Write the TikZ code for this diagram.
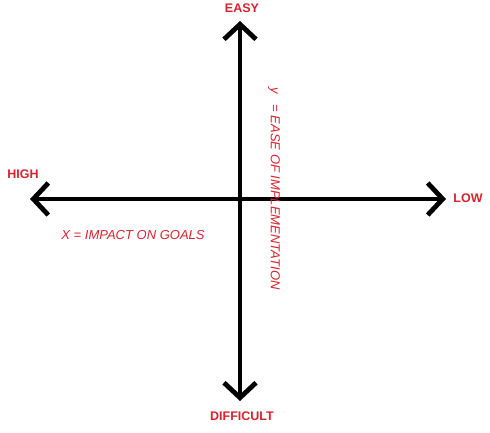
\documentclass[tikz,border=0pt]{standalone}
\usepackage{fontspec}
\setmainfont{Liberation Sans}
\usetikzlibrary{arrows.meta}
\definecolor{lblred}{RGB}{214,36,46}
\tikzset{
  axisline/.style={line width=4.8pt, line cap=round,
    {Straight Barb[length=15pt 0 0, width=32pt 0 0, line width=4.8pt]}-{Straight Barb[length=15pt 0 0, width=32pt 0 0, line width=4.8pt]}},
  endlabel/.style={text=lblred, font=\fontsize{12.5}{14}\selectfont\bfseries, inner sep=0pt},
  axislabel/.style={text=lblred, font=\fontsize{13}{15}\selectfont\itshape, inner sep=0pt}
}
\begin{document}
\begin{tikzpicture}[x=1pt,y=-1pt]
\useasboundingbox[fill=white] (0,0) rectangle (490,432);
\coordinate (top) at (240,21);
\coordinate (bottom) at (240,401);
\coordinate (left) at (30,199);
\coordinate (right) at (446,199);
\draw[axisline] (top) -- (bottom);
\draw[axisline] (left) -- (right);
\node[endlabel] (easy) at (242,8) {EASY};
\node[endlabel] (difficult) at (242,416) {DIFFICULT};
\node[endlabel] (high) at (23,174) {HIGH};
\node[endlabel] (low) at (468,198) {LOW};
\node[axislabel] (xlab) at (133,235) {X = IMPACT ON GOALS};
\node[axislabel, rotate=-90, anchor=west] (ylab) at (274,87) {y\hspace{11pt}= EASE OF IMPLEMENTATION};
\end{tikzpicture}
\end{document}
